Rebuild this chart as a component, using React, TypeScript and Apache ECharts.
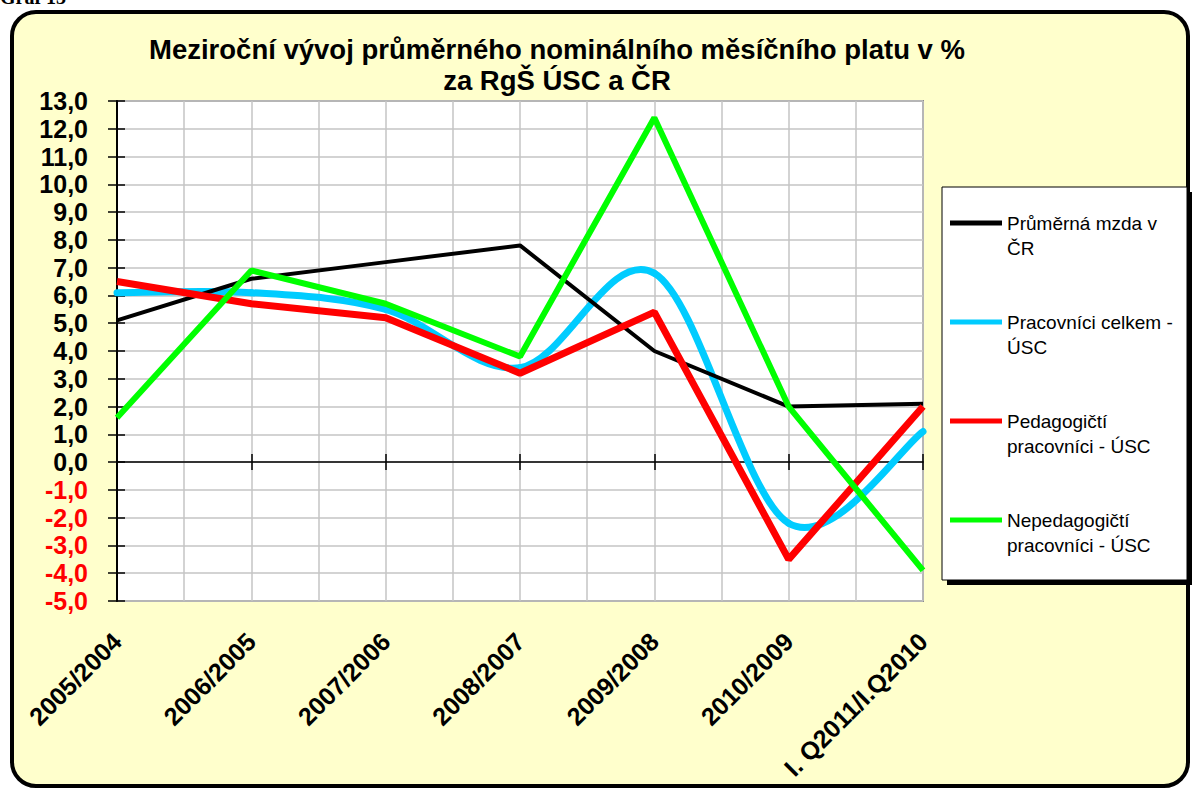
import React, { useEffect, useRef } from "react";
import * as echarts from "echarts";

// ---- data ----
const categories = [
  "2005/2004",
  "2006/2005",
  "2007/2006",
  "2008/2007",
  "2009/2008",
  "2010/2009",
  "I. Q2011/I.Q2010",
];
const prumernaMzdaCR = [5.1, 6.6, 7.2, 7.8, 4.0, 2.0, 2.1];
const pracovniciCelkemUSC = [6.1, 6.1, 5.5, 3.4, 6.8, -2.2, 1.1];
const pedagogictiUSC = [6.5, 5.7, 5.2, 3.2, 5.4, -3.5, 2.0];
const nepedagogictiUSC = [1.6, 6.9, 5.7, 3.8, 12.4, 2.0, -3.9];

const seriesNames = [
  "Průměrná mzda v ČR",
  "Pracovníci celkem - ÚSC",
  "Pedagogičtí pracovníci - ÚSC",
  "Nepedagogičtí pracovníci - ÚSC",
];
const legendLabels = [
  "Průměrná mzda v\nČR",
  "Pracovníci celkem -\nÚSC",
  "Pedagogičtí\npracovníci - ÚSC",
  "Nepedagogičtí\npracovníci - ÚSC",
];
const titleLines = [
  "Meziroční vývoj průměrného nominálního měsíčního platu v %",
  "za RgŠ ÚSC a ČR",
];
const pageCaption = "Graf 13";
const yMin = -5;
const yMax = 13;
const yStep = 1;
// half-category grid steps: categories.length - 1 intervals, 2 lines each
const halfSteps = (categories.length - 1) * 2;

const FONT = '"Liberation Sans", Arial, sans-serif';

export default function App() {
  const ref = useRef<HTMLDivElement>(null);

  useEffect(() => {
    if (!ref.current) return;
    const chart = echarts.init(ref.current, undefined, { renderer: "svg" });
    const fmt = (v: number) => v.toFixed(1).replace(".", ",");

    // Excel-style smoothed line (Catmull-Rom through the data points)
    const smoothRenderItem = (values: number[], color: string, width: number) =>
      (params: any, api: any) => {
        const i = params.dataIndex;
        const n = values.length;
        if (i >= n - 1) return null;
        const pt = (k: number) => {
          const kk = Math.max(0, Math.min(n - 1, k));
          return api.coord([kk, values[kk]]);
        };
        const p0 = pt(i - 1);
        const p1 = pt(i);
        const p2 = pt(i + 1);
        const p3 = pt(i + 2);
        return {
          type: "bezierCurve",
          shape: {
            x1: p1[0],
            y1: p1[1],
            cpx1: p1[0] + (p2[0] - p0[0]) / 6,
            cpy1: p1[1] + (p2[1] - p0[1]) / 6,
            cpx2: p2[0] - (p3[0] - p1[0]) / 6,
            cpy2: p2[1] - (p3[1] - p1[1]) / 6,
            x2: p2[0],
            y2: p2[1],
          },
          style: { stroke: color, lineWidth: width, fill: null, lineCap: "round" },
        };
      };

    const option: any = {
      animation: false,
      backgroundColor: "transparent",
      grid: {
        left: 117,
        right: 269,
        top: 101,
        bottom: 188,
        show: true,
        backgroundColor: "#ffffff",
        borderColor: "#8a8a8a",
        borderWidth: 2,
      },
      xAxis: [
        {
          type: "category",
          data: categories,
          boundaryGap: false,
          position: "bottom",
          axisLine: { show: false, onZero: false },
          axisTick: { show: false },
          splitLine: { show: false },
          axisLabel: {
            interval: 0,
            rotate: 45,
            margin: 36,
            color: "#000",
            fontFamily: FONT,
            fontWeight: "bold",
            fontSize: 25,
          },
        },
        {
          type: "category",
          data: categories,
          boundaryGap: false,
          position: "bottom",
          axisLine: { show: true, onZero: true, lineStyle: { color: "#000", width: 1.5 } },
          axisTick: { show: true, inside: true, length: 8, lineStyle: { color: "#000", width: 1.5 } },
          axisLabel: { show: false },
          splitLine: { show: false },
        },
        {
          type: "category",
          data: categories,
          boundaryGap: false,
          position: "bottom",
          axisLine: { show: false, onZero: true },
          axisTick: { show: true, inside: false, length: 8, lineStyle: { color: "#000", width: 1.5 } },
          axisLabel: { show: false },
          splitLine: { show: false },
        },
        {
          type: "value",
          min: 0,
          max: halfSteps,
          interval: 1,
          position: "top",
          axisLine: { show: false },
          axisTick: { show: false },
          axisLabel: { show: false },
          splitLine: { show: true, lineStyle: { color: "#c4c4c4", width: 1.5 } },
        },
      ],
      yAxis: [
        {
          type: "value",
          min: yMin,
          max: yMax,
          interval: yStep,
          position: "left",
          axisLine: { show: true, onZero: false, lineStyle: { color: "#000", width: 2 } },
          axisTick: { show: true, inside: true, length: 8, lineStyle: { color: "#000", width: 1.5 } },
          splitLine: { show: true, lineStyle: { color: "#c4c4c4", width: 1.5 } },
          axisLabel: {
            margin: 29,
            fontFamily: FONT,
            fontWeight: "bold",
            fontSize: 25,
            formatter: (v: number) => fmt(v),
            color: (v: any) => (Number(v) < 0 ? "#ff0000" : "#000000"),
          },
        },
        {
          type: "value",
          min: yMin,
          max: yMax,
          interval: yStep,
          position: "left",
          offset: 0,
          axisLine: { show: false, onZero: false },
          axisTick: { show: true, inside: false, length: 9, lineStyle: { color: "#000", width: 1.5 } },
          splitLine: { show: false },
          axisLabel: { show: false },
        },
      ],
      legend: {
        data: seriesNames,
        orient: "vertical",
        left: 950,
        top: 185.5,
        padding: 0,
        itemWidth: 52,
        itemHeight: 5,
        itemGap: 24,
        icon: "rect",
        selectedMode: false,
        // leading blank line puts the first text line level with the key line
        formatter: (name: string) => "\n" + legendLabels[seriesNames.indexOf(name)],
        textStyle: {
          fontFamily: FONT,
          fontSize: 19,
          color: "#000",
          lineHeight: 25,
        },
      },
      graphic: [
        {
          type: "rect",
          z: 0,
          shape: { x: 947, y: 192, width: 245, height: 393 },
          style: { fill: "#000" },
        },
        {
          type: "rect",
          z: 1,
          shape: { x: 942, y: 187, width: 245, height: 393 },
          style: { fill: "#fff", stroke: "#000", lineWidth: 1 },
        },
        {
          type: "text",
          z: 5,
          x: 557,
          y: 34,
          style: {
            text: titleLines.join("\n"),
            align: "center",
            verticalAlign: "top",
            font: `bold 27.5px ${FONT}`,
            lineHeight: 31,
            fill: "#000",
          },
        },
      ],
      series: [
        {
          name: seriesNames[0],
          type: "line",
          data: prumernaMzdaCR,
          showSymbol: false,
          symbol: "none",
          color: "#000000",
          lineStyle: { color: "#000000", width: 4 },
        },
        {
          name: seriesNames[1],
          type: "custom",
          data: pracovniciCelkemUSC.map((v, i) => [i, v]),
          encode: { x: 0, y: 1 },
          xAxisIndex: 0,
          yAxisIndex: 0,
          itemStyle: { color: "#00ccff" },
          renderItem: smoothRenderItem(pracovniciCelkemUSC, "#00ccff", 7),
        },
        {
          name: seriesNames[2],
          type: "line",
          data: pedagogictiUSC,
          showSymbol: false,
          symbol: "none",
          color: "#ff0000",
          lineStyle: { color: "#ff0000", width: 7 },
        },
        {
          name: seriesNames[3],
          type: "line",
          data: nepedagogictiUSC,
          showSymbol: false,
          symbol: "none",
          color: "#00ff00",
          lineStyle: { color: "#00ff00", width: 6 },
        },
      ],
    };
    chart.setOption(option);
    return () => chart.dispose();
  }, []);

  return (
    <div style={{ position: "absolute", left: 0, top: 0, width: 1192, height: 789, overflow: "hidden" }}>
      <div
        style={{
          position: "absolute",
          left: 10,
          top: 10,
          width: 1180,
          height: 778,
          boxSizing: "border-box",
          border: "4px solid #000",
          borderRadius: 26,
          background: "#ffffcc",
        }}
      />
      <div
        style={{
          position: "absolute",
          left: 0,
          top: -13,
          fontFamily: '"Liberation Serif", "Times New Roman", serif',
          fontWeight: "bold",
          fontSize: 20,
          lineHeight: "20px",
          whiteSpace: "nowrap",
        }}
      >
        {pageCaption}
      </div>
      <div ref={ref} style={{ position: "absolute", left: 0, top: 0, width: 1192, height: 789 }} />
    </div>
  );
}
